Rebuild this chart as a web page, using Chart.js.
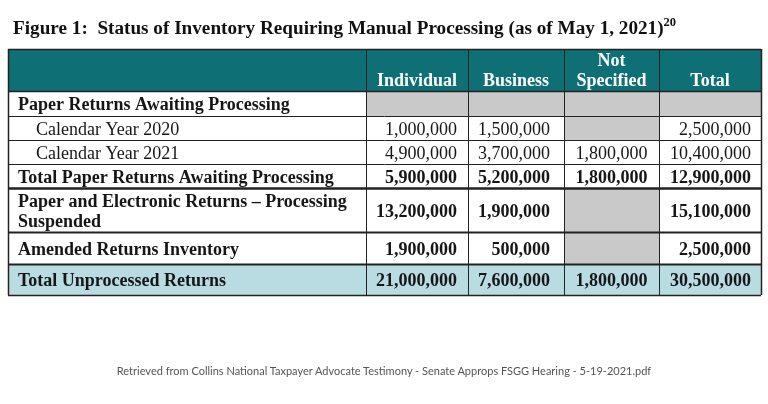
<!DOCTYPE html>
<html>
<head>
<meta charset="utf-8">
<script src="https://cdn.jsdelivr.net/npm/chart.js@4.4.1/dist/chart.umd.min.js"></script>
<style>
  html, body { margin:0; padding:0; background:#fff; width:768px; height:404px; overflow:hidden; }
  #wrap { position:relative; width:768px; height:404px; }
  #c { position:absolute; left:0; top:0; }
  #title { position:absolute; left:13px; top:18px; font:bold 19.2px "Liberation Serif", serif; line-height:20px; color:#111; white-space:nowrap; }
  #title sup { font-size:12.5px; line-height:0; position:relative; top:-1px; }
  #foot { position:absolute; left:0; width:768px; top:364px; text-align:center; font:11px Lato, sans-serif; line-height:14px; color:#555; }
</style>
</head>
<body>
<div id="wrap">
  <canvas id="c" width="768" height="404"></canvas>
  <div id="title">Figure 1:&nbsp; Status of Inventory Requiring Manual Processing (as of May 1, 2021)<sup>20</sup></div>
  <div id="foot">Retrieved from Collins National Taxpayer Advocate Testimony - Senate Approps FSGG Hearing - 5-19-2021.pdf</div>
</div>
<script>
// ── Data ─────────────────────────────────────────────────────
const columns      = ['Individual', 'Business', 'Not\nSpecified', 'Total'];
const rowLabels    = ['Paper Returns Awaiting Processing', 'Calendar Year 2020', 'Calendar Year 2021',
                      'Total Paper Returns Awaiting Processing',
                      'Paper and Electronic Returns \u2013 Processing\nSuspended',
                      'Amended Returns Inventory', 'Total Unprocessed Returns'];
const individual   = [null, 1000000, 4900000, 5900000, 13200000, 1900000, 21000000];
const business     = [null, 1500000, 3700000, 5200000, 1900000, 500000, 7600000];
const notSpecified = [null, null, 1800000, 1800000, null, null, 1800000];
const total        = [null, 2500000, 10400000, 12900000, 15100000, 2500000, 30500000];
const boldRows     = [true, false, false, true, true, true, true];
const indentRows   = [false, true, true, false, false, false, false];

// ── Layout / style ───────────────────────────────────────────
const C = { teal:'#0e6f75', gray:'#c9c9c9', sum:'#b9dce2', line:'#222', text:'#161616' };
const colW   = [358, 102, 96, 95, 102];          // label col + 4 value cols
const rowH   = [42, 25, 24, 24, 24, 44, 32, 31];  // header + body rows
const ruleW  = [1.5, 1.5, 1, 1, 1, 2.5, 2, 2, 1.5];
const align  = ['right', 'right', 'center', 'right'];
const padR   = [11, 14, 0, 10];
const FONT   = '"Liberation Serif", serif';

const cum = a => a.reduce((acc, v) => (acc.push(acc[acc.length - 1] + v), acc), [0]);
const colEdges = cum(colW), rowEdges = cum(rowH);
const series = [individual, business, notSpecified, total];
const fmt = v => v.toLocaleString('en-US');

const tablePlugin = {
  id: 'table',
  afterDraw(chart) {
    const { ctx, scales: { x, y } } = chart;
    const xs = colEdges.map(v => x.getPixelForValue(v));
    const ys = rowEdges.map(v => y.getPixelForValue(v));
    const L = xs[0], R = xs[xs.length - 1], T = ys[0], B = ys[ys.length - 1];
    ctx.save();

    // backgrounds
    ctx.fillStyle = C.teal;
    ctx.fillRect(L, ys[0], R - L, ys[1] - ys[0]);
    const last = rowLabels.length;
    ctx.fillStyle = C.sum;
    ctx.fillRect(L, ys[last], R - L, ys[last + 1] - ys[last]);
    ctx.fillStyle = C.gray;
    series.forEach((s, c) => s.forEach((v, r) => {
      if (v === null) ctx.fillRect(xs[c + 1], ys[r + 1], xs[c + 2] - xs[c + 1], ys[r + 2] - ys[r + 1]);
    }));

    // header text
    ctx.fillStyle = '#fff';
    ctx.font = 'bold 18px ' + FONT;
    ctx.textAlign = 'center';
    ctx.textBaseline = 'alphabetic';
    columns.forEach((lab, c) => {
      const lines = lab.split('\n');
      const cx = (xs[c + 1] + xs[c + 2]) / 2;
      lines.forEach((ln, i) => ctx.fillText(ln, cx, ys[1] - 5 - (lines.length - 1 - i) * 20));
    });

    // body text
    ctx.fillStyle = C.text;
    rowLabels.forEach((lab, r) => {
      const mid = (ys[r + 1] + ys[r + 2]) / 2;
      ctx.font = (boldRows[r] ? 'bold ' : '') + '18px ' + FONT;
      ctx.textAlign = 'left';
      const lines = lab.split('\n');
      lines.forEach((ln, i) =>
        ctx.fillText(ln, L + (indentRows[r] ? 28 : 10), mid + 6.5 + (i - (lines.length - 1) / 2) * 20));
      series.forEach((s, c) => {
        if (s[r] === null) return;
        ctx.textAlign = align[c];
        const px = align[c] === 'center' ? (xs[c + 1] + xs[c + 2]) / 2 : xs[c + 2] - padR[c];
        ctx.fillText(fmt(s[r]), px, mid + 6.5);
      });
    });

    // rules
    ctx.strokeStyle = C.line;
    ys.forEach((yy, i) => {
      ctx.lineWidth = ruleW[i];
      ctx.beginPath(); ctx.moveTo(L, Math.round(yy) + 0.5); ctx.lineTo(R, Math.round(yy) + 0.5); ctx.stroke();
    });
    xs.forEach((xx, i) => {
      ctx.lineWidth = (i === 0 || i === xs.length - 1) ? 1.5 : 1;
      ctx.beginPath(); ctx.moveTo(Math.round(xx) + 0.5, T); ctx.lineTo(Math.round(xx) + 0.5, B); ctx.stroke();
    });
    ctx.restore();
  }
};

function build() {
  new Chart(document.getElementById('c'), {
    type: 'scatter',
    data: { datasets: [] },
    options: {
      responsive: false, animation: false, devicePixelRatio: 1,
      layout: { padding: { left: 8, top: 49, right: 7, bottom: 109 } },
      plugins: { legend: { display: false }, tooltip: { enabled: false } },
      scales: {
        x: { type: 'linear', display: false, min: 0, max: colEdges[colEdges.length - 1] },
        y: { type: 'linear', display: false, min: 0, max: rowEdges[rowEdges.length - 1], reverse: true }
      }
    },
    plugins: [tablePlugin]
  });
}

Promise.all([
  document.fonts.load('18px "Liberation Serif"'),
  document.fonts.load('bold 18px "Liberation Serif"')
]).then(build, build);
</script>
</body>
</html>
